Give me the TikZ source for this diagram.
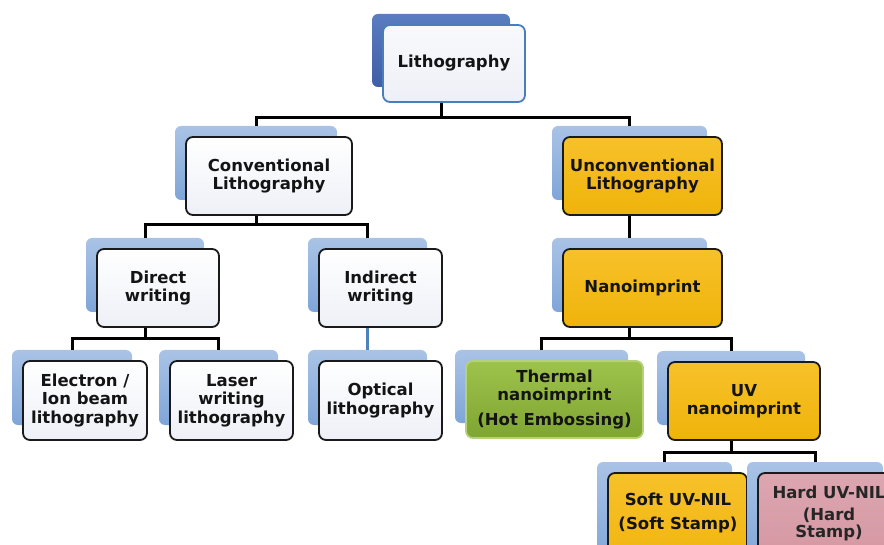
\documentclass[tikz,border=0pt]{standalone}
\usepackage{fontspec}
\setmainfont{DejaVu Sans}
\definecolor{shtop}{HTML}{A9C3E6}
\definecolor{shbot}{HTML}{7FA5D8}
\definecolor{dshtop}{HTML}{5A7CC0}
\definecolor{dshbot}{HTML}{3E5EA6}
\definecolor{bord}{HTML}{1A1A1A}
\definecolor{blueb}{HTML}{4A7EBB}
\definecolor{boxbot}{HTML}{EEF0F7}
\definecolor{goldtop}{HTML}{F7C12A}
\definecolor{goldbot}{HTML}{EFB30A}
\definecolor{greentop}{HTML}{9DC34C}
\definecolor{greenbot}{HTML}{7FA532}
\definecolor{greenb}{HTML}{B5D27A}
\definecolor{pinktop}{HTML}{DCA6B0}
\definecolor{pinkbot}{HTML}{D3949F}
\definecolor{txt}{HTML}{141414}
\definecolor{connblue}{HTML}{4F81BD}
\colorlet{F4}{white!60!boxbot}
\newcommand\boxfont{\fontsize{16.5}{18.5}\bfseries\selectfont}
\tikzset{
  shadowbox/.style={rectangle, rounded corners=6pt, draw=none, top color=shtop, bottom color=shbot},
  darkshadow/.style={shadowbox, top color=dshtop, bottom color=dshbot},
  mainbox/.style={rectangle, rounded corners=7pt, draw=bord, line width=1.8pt, top color=white, bottom color=boxbot, font=\boxfont, align=center, text=txt, inner sep=2pt},
  topbox/.style={mainbox, draw=blueb, top color=F4, bottom color=boxbot},
  goldbox/.style={mainbox, top color=goldtop, bottom color=goldbot},
  greenbox/.style={mainbox, draw=greenb, top color=greentop, bottom color=greenbot},
  pinkbox/.style={mainbox, top color=pinktop, bottom color=pinkbot},
  boxtext/.style={font=\boxfont, align=center, text=txt, inner sep=0pt},
  conn/.style={draw=black, line width=3pt},
  connb/.style={draw=connblue, line width=3pt},
}
% name, x1, y1, x2, y2, shadow style, main style, text
\newcommand\mkbox[8]{%
  \node[#6, minimum width={(#4-#2-4)*1pt}, minimum height={(#5-#3-4)*1pt}] (#1-s) at ({(#2+#4)/2-13},{(#3+#5)/2-13}) {};
  \node[#7, minimum width={(#4-#2)*1pt}, minimum height={(#5-#3)*1pt}] (#1) at ({(#2+#4)/2},{(#3+#5)/2}) {#8};}
\begin{document}
\begin{tikzpicture}[x=1pt,y=-1pt]
\useasboundingbox (0,0) rectangle (884,545);
\clip (0,0) rectangle (884,545);
\fill[white] (0,0) rectangle (884,545);

\mkbox{litho}{383}{25}{525}{102}{darkshadow}{topbox}{Lithography}
\mkbox{conv}{186}{137}{352}{215}{shadowbox}{mainbox}{Conventional\\Lithography}
\mkbox{unconv}{563}{137}{722}{215}{shadowbox}{goldbox}{Unconventional\\Lithography}
\mkbox{direct}{97}{249}{219}{327}{shadowbox}{mainbox}{Direct\\writing}
\mkbox{indirect}{319}{249}{442}{327}{shadowbox}{mainbox}{Indirect\\writing}
\mkbox{nano}{563}{249}{722}{327}{shadowbox}{goldbox}{Nanoimprint}
\mkbox{electron}{23}{361}{147}{440}{shadowbox}{mainbox}{Electron /\\Ion beam\\lithography}
\mkbox{laser}{170}{361}{293}{440}{shadowbox}{mainbox}{Laser\\writing\\lithography}
\mkbox{optical}{319}{361}{442}{440}{shadowbox}{mainbox}{Optical\\lithography}
\mkbox{thermal}{466}{361}{643}{438}{shadowbox}{greenbox}{Thermal\\nanoimprint\\[6pt](Hot Embossing)}
\mkbox{uv}{668}{362}{820}{440}{shadowbox}{goldbox}{UV\\nanoimprint}
\mkbox{soft}{608}{473}{747}{580}{shadowbox}{goldbox}{}
\mkbox{hard}{758}{473}{898}{580}{shadowbox}{pinkbox}{}
\node[boxtext] (soft-t) at (678,513) {Soft UV-NIL\\[5pt](Soft Stamp)};
\node[boxtext, text=black!85] (hard-t) at (829,513) {Hard UV-NIL\\[4pt](Hard\\[-2pt]Stamp)};

\coordinate (b1) at (0,118);
\coordinate (b2) at (0,225);
\coordinate (b3) at (0,339);
\coordinate (b4) at (0,339);
\coordinate (b5) at (0,452);

\draw[conn] (litho-s |- litho.south) -- (litho-s |- b1) -| (conv-s.north);
\draw[conn] (litho-s |- b1) -| (unconv-s.north);
\draw[conn] (conv-s |- conv.south) -- (conv-s |- b2) -| (direct-s.north);
\draw[conn] (conv-s |- b2) -| (indirect-s.north);
\draw[conn] (unconv-s |- unconv.south) -- (nano-s.north);
\draw[conn] (direct-s |- direct.south) -- (direct-s |- b3) -| (electron-s.north);
\draw[conn] (direct-s |- b3) -| (laser-s.north);
\draw[connb] (indirect-s |- indirect.south) -- (optical-s.north);
\draw[conn] (nano-s |- nano.south) -- (nano-s |- b4) -| (thermal-s.north);
\draw[conn] (nano-s |- b4) -| (uv-s.north);
\draw[conn] (uv-s |- uv.south) -- (uv-s |- b5) -| (soft-s.north);
\draw[conn] (uv-s |- b5) -| (hard-s.north);
\end{tikzpicture}
\end{document}
